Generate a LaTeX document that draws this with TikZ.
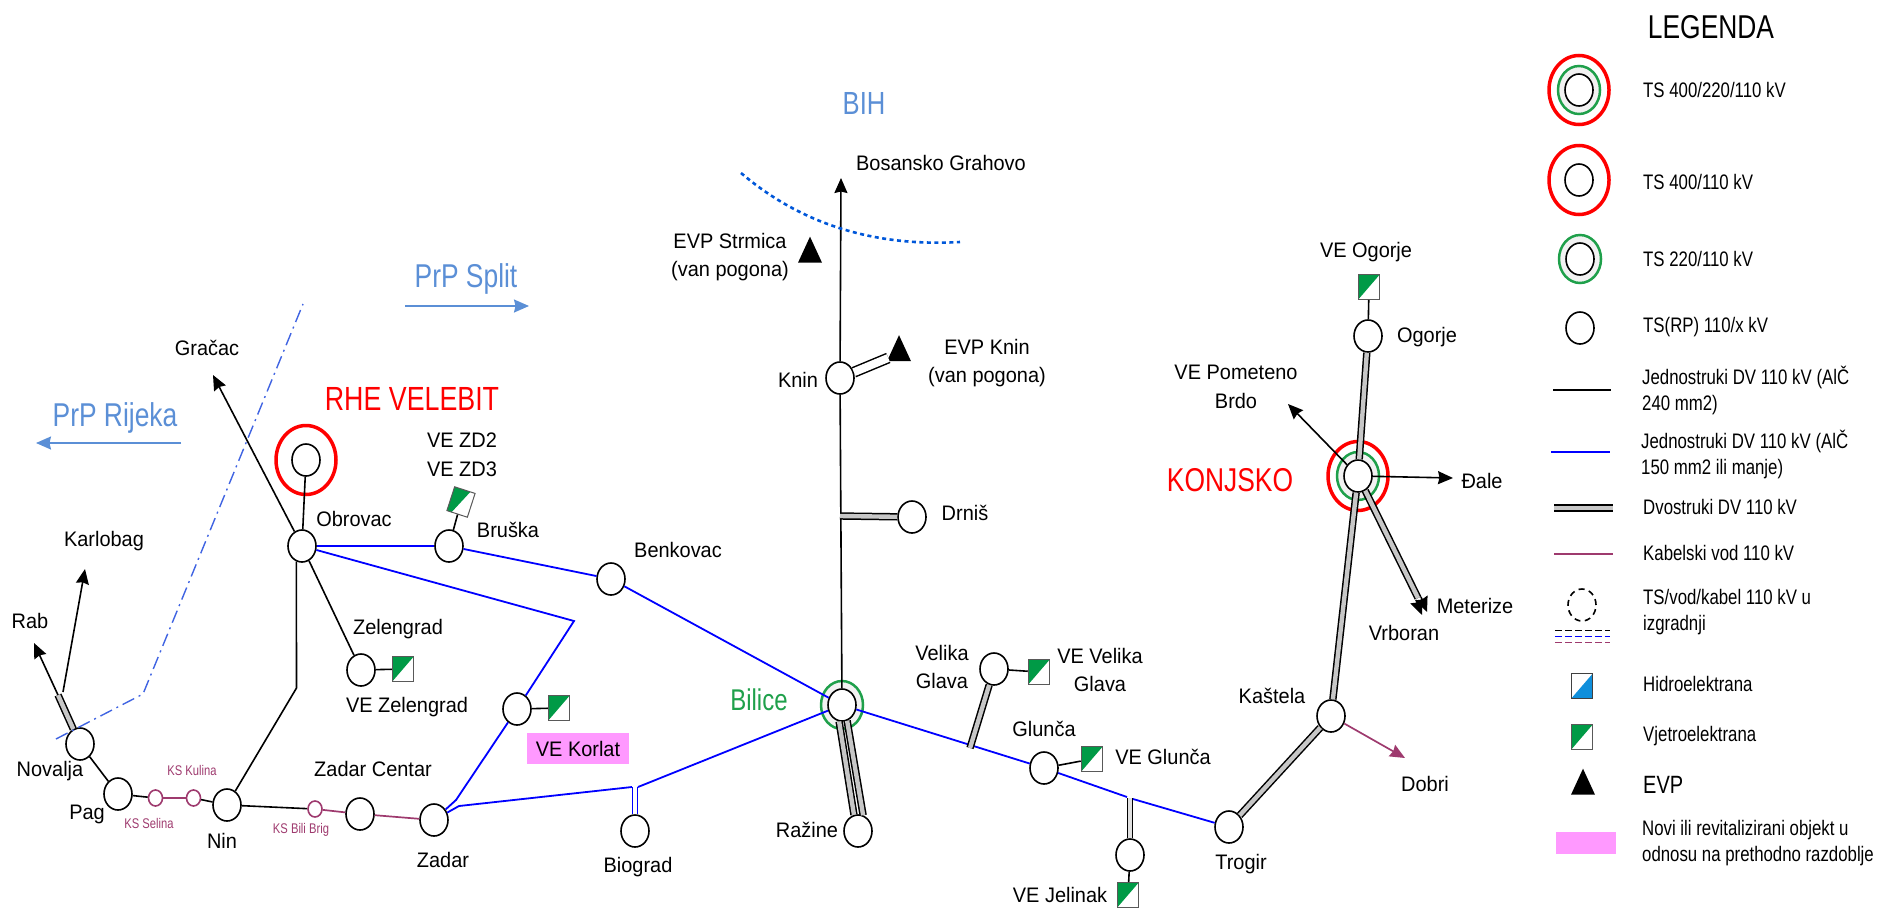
\documentclass[tikz,border=0pt]{standalone}
\usepackage{fontspec}
\setmainfont[FakeStretch=0.95]{Liberation Sans}
\newfontfamily\lgf[FakeStretch=0.8]{Liberation Sans}
\usepackage{tikz}
\usetikzlibrary{shapes.geometric,arrows.meta}

\definecolor{kabel}{HTML}{9E3A6E}
\definecolor{vjetar}{HTML}{009A46}
\definecolor{hidro}{HTML}{0F8FDC}
\definecolor{prsten}{HTML}{1FA04B}
\definecolor{regija}{HTML}{5B8FD6}
\definecolor{novi}{HTML}{FF99FF}

\tikzset{
	lbl/.style={inner sep=0pt,font=\fontsize{21}{28.5}\selectfont,align=center},
	leg/.style={inner sep=0pt,anchor=west,font=\lgf\fontsize{21}{26}\selectfont,align=left},
	kslbl/.style={inner sep=0pt,text=kabel,font=\lgf\fontsize{14}{16}\selectfont},
	ts/.style={shape=ellipse,draw=black,fill=white,line width=1.6pt,inner sep=0pt,minimum width=28pt,minimum height=32pt},
	ks/.style={shape=ellipse,draw=kabel,fill=white,line width=1.6pt,inner sep=0pt,minimum width=14pt,minimum height=16pt},
	redring/.style={shape=ellipse,draw=red,fill=white,line width=3.5pt,inner sep=0pt,minimum width=60pt,minimum height=69pt},
	greenring/.style={shape=ellipse,draw=prsten,fill=black!5,line width=2.5pt,inner sep=0pt,minimum width=42pt,minimum height=48pt},
	ve/.style={shape=rectangle,draw=black!65,fill=white,line width=1pt,inner sep=0pt,minimum width=21.5pt,minimum height=25pt,
		path picture={\fill[vjetar] (path picture bounding box.north west) -- (path picture bounding box.north east) -- (path picture bounding box.south west) -- cycle;}},
	he/.style={shape=rectangle,draw=black!75,fill=white,line width=1pt,inner sep=0pt,minimum width=21.5pt,minimum height=25pt,
		path picture={\fill[hidro] (path picture bounding box.south east) -- (path picture bounding box.north east) -- (path picture bounding box.south west) -- cycle;}},
	evp/.style={shape=isosceles triangle,shape border rotate=90,isosceles triangle stretches,fill=black,inner sep=0pt,minimum width=24pt,minimum height=26pt},
	crni/.style={draw=black,line width=1.6pt},
	plavi/.style={draw=blue,line width=1.8pt},
	kab/.style={draw=kabel,line width=1.7pt},
	dv/.style={draw=black,line width=1.5pt,double=black!22,double distance=4.4pt},
	dvbijeli/.style={draw=black,line width=1.5pt,double=white,double distance=8pt},
	dvplavi/.style={draw=blue,line width=1.6pt,double=white,double distance=3.5pt},
	dvsvijetli/.style={draw=black,line width=1.5pt,double=black!12,double distance=3.5pt},
	strelica/.style={draw=black,line width=1.6pt,-{Stealth[length=15pt,width=13pt,inset=1.5pt]}},
	prp/.style={draw=regija,line width=1.6pt,-{Stealth[length=15pt,width=13pt,inset=1.5pt]}},
	crtka/.style={line width=1.3pt,dash pattern=on 6.5pt off 3.5pt},
}

\begin{document}
\begin{tikzpicture}[x=1pt,y=-1pt]
	\useasboundingbox (0,0) rectangle (1894,910);

	% stanice
	\node[redring] (velebitring) at (306, 460) {};
	\node[redring] (konjskored) at (1358, 476) {};
	\node[greenring] (konjskogreen) at (1358, 476) {};
	\node[greenring] (bilicering) at (842, 705) {};
	\node[ts] (velebit) at (306, 460) {};
	\node[ts] (konjsko) at (1358, 476) {};
	\node[ts] (bilice) at (842, 705) {};
	\node[ts] (novalja) at (80, 744) {};
	\node[ts] (pag) at (118, 794) {};
	\node[ts] (nin) at (227, 805) {};
	\node[ts] (zadarc) at (360, 814) {};
	\node[ts] (zadar) at (434, 820) {};
	\node[ts] (obrovac) at (302, 546) {};
	\node[ts] (bruska) at (449, 546) {};
	\node[ts] (benkovac) at (611, 579) {};
	\node[ts] (zelengrad) at (361, 670) {};
	\node[ts] (korlat) at (517, 709) {};
	\node[ts] (biograd) at (635, 831) {};
	\node[ts] (knin) at (840, 378) {};
	\node[ts] (drnis) at (912, 517) {};
	\node[ts] (razine) at (858, 831) {};
	\node[ts] (velikag) at (994, 669) {};
	\node[ts] (glunca) at (1044, 768) {};
	\node[ts] (jelinak) at (1130, 855) {};
	\node[ts] (trogir) at (1229, 827) {};
	\node[ts] (kastela) at (1331, 716) {};
	\node[ts] (ogorje) at (1368, 336) {};
	\node[ks] (selina) at (155.5, 798) {};
	\node[ks] (kulina) at (193.5, 798) {};
	\node[ks] (bilibrig) at (315, 809) {};

	% elektrane
	\node[ve] (vezel) at (403, 669) {};
	\node[ve] (vekor) at (559, 708) {};
	\node[ve,rotate=-18] (vezd) at (461, 502) {};
	\node[ve] (vevel) at (1039, 672) {};
	\node[ve] (veglu) at (1092, 759) {};
	\node[ve] (vejel) at (1128, 895) {};
	\node[ve] (veogo) at (1369, 287) {};
	\node[evp] (evpstr) at (810, 255) {};
	\node[evp] (evpknin) at (899, 353.5) {};

	% slobodni krajevi
	\coordinate (gracac) at (213, 375);
	\coordinate (karlobag) at (85, 569);
	\coordinate (rab) at (34, 643);
	\coordinate (rabk) at (58, 695);
	\coordinate (karlobagk) at (63, 692);
	\coordinate (grahovo) at (841, 178);
	\coordinate (ninj) at (296.5, 688);
	\coordinate (zelj) at (574, 621);
	\coordinate (zada) at (456, 800);
	\coordinate (zadb) at (459, 806);
	\coordinate (biol) at (632, 787);
	\coordinate (biod) at (638, 787);
	\coordinate (bioj) at (635, 787);
	\coordinate (drnj) at (840, 516);
	\coordinate (velj) at (970, 748);
	\coordinate (jell) at (1127, 797);
	\coordinate (jeld) at (1133, 799);
	\coordinate (jelj) at (1130, 798);
	\coordinate (pometeno) at (1288, 404);
	\coordinate (dale) at (1453, 478);
	\coordinate (meta) at (1418, 598);
	\coordinate (metb) at (1416, 600);
	\coordinate (metc) at (1421, 597);
	\coordinate (metd) at (1422, 615);
	\coordinate (mete) at (1427, 612);
	\coordinate (dobri) at (1405, 758);

	% vodovi
	\path (novalja) edge[crni] (pag);
	\path (pag) edge[crni] (selina);
	\path (selina) edge[kab] (kulina);
	\path (kulina) edge[crni] (nin);
	\path (nin) edge[crni] (bilibrig);
	\path (bilibrig) edge[kab] (zadarc);
	\path (zadarc) edge[kab] (zadar);
	\path (novalja) edge[dv] (rabk);
	\path (rabk) edge[strelica] (rab);
	\path (karlobagk) edge[strelica] (karlobag);
	\draw[crni] (obrovac.-110) -- (ninj) -- (nin);
	\path (obrovac) edge[strelica] (gracac);
	\path (obrovac) edge[crni] (velebit);
	\path (obrovac) edge[crni] (zelengrad);
	\path (zelengrad) edge[crni] (vezel);
	\path (korlat) edge[crni] (vekor);
	\path (bruska) edge[crni] (vezd);
	\path (obrovac) edge[plavi] (bruska);
	\path (bruska) edge[plavi] (benkovac);
	\path (benkovac) edge[plavi] (bilice);
	\draw[plavi] (obrovac) -- (zelj) -- (korlat);
	\draw[plavi] (korlat) -- (zada) -- (zadar);
	\draw[plavi] (zadar) -- (zadb) -- (biol);
	\path (biod) edge[plavi] (bilice);
	\path (bioj) edge[dvplavi] (biograd);
	\path (bilice) edge[plavi] (glunca);
	\path (glunca) edge[plavi] (jell);
	\path (jeld) edge[plavi] (trogir);
	\path (jelj) edge[dvsvijetli] (jelinak);
	\path (jelinak) edge[crni] (vejel);
	\path (velikag) edge[crni] (vevel);
	\path (glunca) edge[crni] (veglu);
	\path (velj) edge[dv] (velikag);
	\path (bilice.-100) edge[dv] (razine.104);
	\path (bilice.-72) edge[dv] (razine.72);
	\path (knin) edge[strelica] (grahovo);
	\path (knin) edge[crni] (bilice);
	\path (drnj) edge[dv] (drnis);
	\path (knin) edge[dvbijeli] (evpknin);
	\path (trogir) edge[dv] (kastela);
	\path (kastela) edge[dv] (konjsko);
	\path (konjsko) edge[dv] (ogorje);
	\path (ogorje) edge[crni] (veogo);
	\path (konjsko) edge[strelica] (pometeno);
	\path (konjsko) edge[strelica] (dale);
	\path (konjsko) edge[dv] (meta);
	\path (metb) edge[strelica] (metd);
	\path (metc) edge[strelica] (mete);
	\path (kastela) edge[kab,-{Stealth[length=15pt,width=13pt,inset=1.5pt]}] (dobri);

	% granice
	\coordinate (grana) at (56, 739);
	\coordinate (granb) at (143, 694);
	\coordinate (granc) at (303, 304);
	\draw[draw=regija!70!blue,line width=1.4pt,dash pattern=on 13pt off 5pt on 2pt off 5pt] (grana) -- (granb) -- (granc);
	\coordinate (biha) at (741, 173);
	\coordinate (bihc) at (801, 224);
	\coordinate (bihd) at (874, 247);
	\coordinate (bihb) at (960, 242);
	\draw[draw=blue!60!cyan!85!black,line width=2.6pt,dash pattern=on 4pt off 3.5pt] (biha) .. controls (bihc) and (bihd) .. (bihb);
	\coordinate (splita) at (405, 306);
	\coordinate (splitb) at (529, 306);
	\path (splita) edge[prp] (splitb);
	\coordinate (rijekaa) at (181, 443);
	\coordinate (rijekab) at (36, 443);
	\path (rijekaa) edge[prp] (rijekab);

	% natpisi
	\node[inner sep=0pt,text=regija,font=\lgf\fontsize{32}{36}\selectfont] (bih) at (864, 103) {BIH};
	\node[inner sep=0pt,text=regija,font=\lgf\fontsize{33}{36}\selectfont] (prpsplit) at (466, 279) {PrP Split};
	\node[inner sep=0pt,text=regija,font=\lgf\fontsize{33}{36}\selectfont] (prprijeka) at (115, 418) {PrP Rijeka};
	\node[inner sep=0pt,text=red,font=\lgf\fontsize{33.5}{36}\selectfont] (rhe) at (412, 399) {RHE VELEBIT};
	\node[inner sep=0pt,text=red,font=\lgf\fontsize{33}{36}\selectfont] (konjskolbl) at (1230, 480) {KONJSKO};
	\node[inner sep=0pt,text=prsten,font=\lgf\fontsize{30}{36}\selectfont] (bilicelbl) at (759, 700) {Bilice};
	\node[lbl] (gracaclbl) at (207, 348) {Gračac};
	\node[lbl] (karlobaglbl) at (104, 541) {Karlobag};
	\node[lbl] (rablbl) at (30, 621) {Rab};
	\node[lbl] (obrovaclbl) at (354, 519) {Obrovac};
	\node[lbl] (ve1lbl) at (462, 455) {VE ZD2\\VE ZD3};
	\node[lbl] (bruskalbl) at (508, 530) {Bruška};
	\node[lbl] (benkovaclbl) at (678, 550) {Benkovac};
	\node[lbl] (zelengradlbl) at (398, 629) {Zelengrad};
	\node[lbl] (vezellbl) at (407, 707) {VE Zelengrad};
	\node[fill=novi,inner sep=0pt,minimum width=102.5pt,minimum height=31pt,font=\fontsize{21}{26}\selectfont] (vekorlbl) at (578, 748.5) {VE Korlat};
	\node[lbl] (novaljalbl) at (50, 771) {Novalja};
	\node[lbl] (paglbl) at (87, 814) {Pag};
	\node[kslbl] (kulinalbl) at (192, 770) {KS Kulina};
	\node[kslbl] (selinalbl) at (149, 823) {KS Selina};
	\node[kslbl] (bilibriglbl) at (301, 830) {KS Bili Brig};
	\node[lbl] (ninlbl) at (222, 841) {Nin};
	\node[lbl] (zadarclbl) at (373, 769) {Zadar Centar};
	\node[lbl] (zadarlbl) at (443, 860) {Zadar};
	\node[lbl] (biogradlbl) at (638, 867) {Biograd};
	\node[lbl] (grahovolbl) at (941, 163) {Bosansko Grahovo};
	\node[lbl] (strmicalbl) at (730, 257) {EVP Strmica\\(van pogona)};
	\node[lbl] (kninlbl) at (798, 380) {Knin};
	\node[lbl] (evpkninlbl) at (987, 363) {EVP Knin\\(van pogona)};
	\node[lbl] (drnislbl) at (965, 513) {Drniš};
	\node[lbl] (razinelbl) at (807, 830) {Ražine};
	\node[lbl] (velikalbl) at (942, 667) {Velika\\Glava};
	\node[lbl] (vevellbl) at (1100, 670) {VE Velika\\Glava};
	\node[lbl] (gluncalbl) at (1044, 729) {Glunča};
	\node[lbl] (vegluncalbl) at (1163, 757) {VE Glunča};
	\node[lbl] (vejellbl) at (1060, 895) {VE Jelinak};
	\node[lbl] (trogirlbl) at (1241, 864) {Trogir};
	\node[lbl] (kastelalbl) at (1272, 696) {Kaštela};
	\node[lbl] (dobrilbl) at (1425, 784) {Dobri};
	\node[lbl] (veogolbl) at (1366, 252) {VE Ogorje};
	\node[lbl] (ogorjelbl) at (1427, 337) {Ogorje};
	\node[lbl] (pometenolbl) at (1236, 387) {VE Pometeno\\Brdo};
	\node[lbl] (dalelbl) at (1482, 481) {Đale};
	\node[lbl] (meterizelbl) at (1475, 606) {Meterize};
	\node[lbl] (vrboranlbl) at (1404, 633) {Vrboran};

	% legenda
	\node[inner sep=0pt,font=\lgf\fontsize{33}{36}\selectfont] (legenda) at (1711, 27) {LEGENDA};
	\node[redring] (lg1a) at (1579, 90) {};
	\node[greenring] (lg1b) at (1579, 90) {};
	\node[ts] (lg1c) at (1579, 90) {};
	\node[leg] (lg1) at (1643, 90) {TS 400/220/110 kV};
	\node[redring] (lg2a) at (1579, 180) {};
	\node[ts] (lg2b) at (1579, 180) {};
	\node[leg] (lg2) at (1643, 182) {TS 400/110 kV};
	\node[greenring] (lg3a) at (1580, 259) {};
	\node[ts] (lg3b) at (1580, 259) {};
	\node[leg] (lg3) at (1643, 259) {TS 220/110 kV};
	\node[ts] (lg4a) at (1580, 328) {};
	\node[leg] (lg4) at (1643, 327) {TS(RP) 110/x kV};
	\coordinate (lg5a) at (1553, 390);
	\coordinate (lg5b) at (1611, 390);
	\path (lg5a) edge[crni] (lg5b);
	\node[leg] (lg5) at (1642, 390) {Jednostruki DV 110 kV (AlČ\\240 mm2)};
	\coordinate (lg6a) at (1551, 452);
	\coordinate (lg6b) at (1610, 452);
	\path (lg6a) edge[plavi] (lg6b);
	\node[leg] (lg6) at (1641, 454) {Jednostruki DV 110 kV (AlČ\\150 mm2 ili manje)};
	\coordinate (lg7a) at (1554, 508);
	\coordinate (lg7b) at (1613, 508);
	\path (lg7a) edge[dv] (lg7b);
	\node[leg] (lg7) at (1643, 507) {Dvostruki DV 110 kV};
	\coordinate (lg8a) at (1554, 554);
	\coordinate (lg8b) at (1613, 554);
	\path (lg8a) edge[kab] (lg8b);
	\node[leg] (lg8) at (1643, 553) {Kabelski vod 110 kV};
	\node[ts,fill=none,dash pattern=on 6pt off 4.5pt] (lg9a) at (1582, 605) {};
	\coordinate (lg9b) at (1555, 630.5);
	\coordinate (lg9c) at (1610, 630.5);
	\coordinate (lg9d) at (1555, 636.5);
	\coordinate (lg9e) at (1610, 636.5);
	\coordinate (lg9f) at (1555, 642.5);
	\coordinate (lg9g) at (1610, 642.5);
	\path (lg9b) edge[crtka,draw=black] (lg9c);
	\path (lg9d) edge[crtka,draw=blue] (lg9e);
	\path (lg9f) edge[crtka,draw=kabel] (lg9g);
	\node[leg] (lg9) at (1643, 612) {TS/vod/kabel 110 kV u\\izgradnji};
	\node[he] (lg10a) at (1582, 686) {};
	\node[leg] (lg10) at (1643, 684) {Hidroelektrana};
	\node[ve] (lg11a) at (1582, 737) {};
	\node[leg] (lg11) at (1643, 736) {Vjetroelektrana};
	\node[evp] (lg12a) at (1583, 787) {};
	\node[leg,font=\lgf\fontsize{25}{26}\selectfont] (lg12) at (1643, 785) {EVP};
	\node[fill=novi,inner sep=0pt,minimum width=60pt,minimum height=22pt] (lg13a) at (1586, 843) {};
	\node[leg] (lg13) at (1642, 843) {Novi ili revitalizirani objekt u\\odnosu na prethodno razdoblje};
\end{tikzpicture}
\end{document}
